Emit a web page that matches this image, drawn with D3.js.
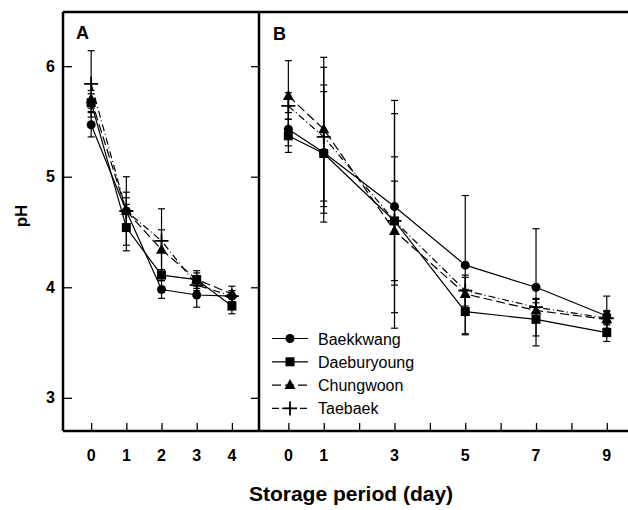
<!DOCTYPE html>
<html>
<head>
<meta charset="utf-8">
<script src="https://cdn.jsdelivr.net/npm/d3@7"></script>
<style>
  body { margin: 0; background: #fff; }
  text { font-family: "Liberation Sans", Arial, sans-serif; fill: #000; }
</style>
</head>
<body>
<div id="chart"></div>
<script>
// storage days
const daysA = [0, 1, 2, 3, 4];
const daysB = [0, 1, 3, 5, 7, 9];
const cultivars = ["Baekkwang", "Daeburyoung", "Chungwoon", "Taebaek"];

// panel A means / sd
const baekkwangA = [5.47, 4.69, 3.98, 3.93, 3.92];
const baekkwangA_sd = [0.11, 0.12, 0.08, 0.11, 0.05];
const daeburyoungA = [5.67, 4.54, 4.11, 4.07, 3.83];
const daeburyoungA_sd = [0.08, 0.21, 0.05, 0.08, 0.07];
const chungwoonA = [5.70, 4.69, 4.34, 4.07, 3.94];
const chungwoonA_sd = [0.08, 0.17, 0.18, 0.06, 0.07];
const taebaekA = [5.84, 4.69, 4.42, 4.02, 3.92];
const taebaekA_sd = [0.30, 0.31, 0.29, 0.05, 0.05];

// panel B means / sd
const baekkwangB = [5.43, 5.22, 4.73, 4.20, 4.00, 3.74];
const baekkwangB_sd = [0.15, 0.55, 0.96, 0.63, 0.53, 0.18];
const daeburyoungB = [5.37, 5.21, 4.60, 3.78, 3.71, 3.59];
const daeburyoungB_sd = [0.15, 0.62, 0.97, 0.20, 0.15, 0.08];
const chungwoonB = [5.73, 5.43, 4.51, 3.94, 3.79, 3.71];
const chungwoonB_sd = [0.32, 0.65, 0.45, 0.15, 0.10, 0.08];
const taebaekB = [5.64, 5.36, 4.60, 3.97, 3.82, 3.72];
const taebaekB_sd = [0.12, 0.63, 0.58, 0.14, 0.08, 0.06];

const yTicks = [3, 4, 5, 6];
const xTicksA = [0, 1, 2, 3, 4];
const xTicksB = [0, 1, 2, 3, 4, 5, 6, 7, 8, 9];
const xLabelsB = [0, 1, 3, 5, 7, 9];

const width = 628, height = 510;
const plotTop = 12, plotBottom = 431;
const plotLeft = 63, divider = 259;

const svg = d3.select("#chart").append("svg")
  .attr("width", width)
  .attr("height", height);

const y = d3.scaleLinear().domain([2.7, 6.49]).range([plotBottom, plotTop]);
const xA = d3.scaleLinear().domain([-0.8, 4.77]).range([plotLeft, divider]);
const xB = d3.scaleLinear().domain([-0.83, 9.6]).range([divider, width]);

const dashes = ["none", "none", "9,4", "7,3,1,3"];
const symbols = ["circle", "square", "triangle", "plus"];

function marker(g, type, cx, cy) {
  if (type === "circle") {
    g.append("circle").attr("cx", cx).attr("cy", cy).attr("r", 4.5).attr("fill", "#000");
  } else if (type === "square") {
    g.append("rect").attr("x", cx - 4.5).attr("y", cy - 4.5)
      .attr("width", 9).attr("height", 9).attr("fill", "#000");
  } else if (type === "triangle") {
    g.append("path")
      .attr("d", `M${cx},${cy - 6}L${cx + 5.5},${cy + 4}L${cx - 5.5},${cy + 4}Z`)
      .attr("fill", "#000");
  } else {
    g.append("path")
      .attr("d", `M${cx - 7},${cy}H${cx + 7}M${cx},${cy - 7}V${cy + 7}`)
      .attr("stroke", "#000").attr("stroke-width", 1.8);
  }
}

function drawPanel(x, days, series, sds) {
  const g = svg.append("g");
  series.forEach((vals, i) => {
    const pts = days.map((d, j) => ({ d, v: vals[j], sd: sds[i][j] }));
    // error bars
    const eb = g.append("g").attr("stroke", "#000").attr("stroke-width", 1.2);
    pts.forEach(p => {
      const px = x(p.d);
      eb.append("line").attr("x1", px).attr("x2", px)
        .attr("y1", y(p.v - p.sd)).attr("y2", y(p.v + p.sd));
      [p.v - p.sd, p.v + p.sd].forEach(e => {
        eb.append("line").attr("x1", px - 3.5).attr("x2", px + 3.5)
          .attr("y1", y(e)).attr("y2", y(e));
      });
    });
    g.append("path")
      .datum(pts)
      .attr("fill", "none")
      .attr("stroke", "#000")
      .attr("stroke-width", 1.2)
      .attr("stroke-dasharray", dashes[i])
      .attr("d", d3.line().x(p => x(p.d)).y(p => y(p.v)));
    pts.forEach(p => marker(g, symbols[i], x(p.d), y(p.v)));
  });
}

drawPanel(xA, daysA,
  [baekkwangA, daeburyoungA, chungwoonA, taebaekA],
  [baekkwangA_sd, daeburyoungA_sd, chungwoonA_sd, taebaekA_sd]);
drawPanel(xB, daysB,
  [baekkwangB, daeburyoungB, chungwoonB, taebaekB],
  [baekkwangB_sd, daeburyoungB_sd, chungwoonB_sd, taebaekB_sd]);

// frame
const frame = svg.append("g").attr("stroke", "#000").attr("stroke-width", 2.5).attr("fill", "none");
frame.append("line").attr("x1", plotLeft).attr("x2", width).attr("y1", plotTop).attr("y2", plotTop);
frame.append("line").attr("x1", plotLeft).attr("x2", width).attr("y1", plotBottom).attr("y2", plotBottom);
frame.append("line").attr("x1", plotLeft).attr("x2", plotLeft).attr("y1", plotTop).attr("y2", plotBottom);
frame.append("line").attr("x1", divider).attr("x2", divider).attr("y1", plotTop).attr("y2", plotBottom);

// left y axis (inward ticks)
svg.append("g")
  .attr("transform", `translate(${plotLeft},0)`)
  .call(d3.axisRight(y).tickValues(yTicks).tickSize(9).tickFormat(""))
  .call(g => g.select(".domain").remove())
  .call(g => g.selectAll("line").attr("stroke-width", 1.3));
svg.append("g")
  .selectAll("text")
  .data(yTicks)
  .join("text")
  .attr("x", 55)
  .attr("y", d => y(d) + 5.5)
  .attr("text-anchor", "end")
  .attr("font-size", 16)
  .attr("font-weight", "bold")
  .text(d => d);

// ticks on the divider
svg.append("g")
  .attr("transform", `translate(${divider},0)`)
  .call(d3.axisLeft(y).tickValues(yTicks).tickSize(8).tickFormat(""))
  .call(g => g.select(".domain").remove())
  .call(g => g.selectAll("line").attr("stroke-width", 1.3));

// x axes (inward ticks)
function xAxis(x, ticks, labels) {
  svg.append("g")
    .attr("transform", `translate(0,${plotBottom})`)
    .call(d3.axisTop(x).tickValues(ticks).tickSize(8).tickFormat(""))
    .call(g => g.select(".domain").remove())
    .call(g => g.selectAll("line").attr("stroke-width", 1.3));
  svg.append("g")
    .selectAll("text")
    .data(labels)
    .join("text")
    .attr("x", d => x(d))
    .attr("y", 461)
    .attr("text-anchor", "middle")
    .attr("font-size", 16)
    .attr("font-weight", "bold")
    .text(d => d);
}
xAxis(xA, xTicksA, xTicksA);
xAxis(xB, xTicksB, xLabelsB);

// panel letters
svg.append("text").attr("x", 76).attr("y", 39).attr("font-size", 18)
  .attr("font-weight", "bold").text("A");
svg.append("text").attr("x", 273).attr("y", 40).attr("font-size", 18)
  .attr("font-weight", "bold").text("B");

// axis titles
svg.append("text")
  .attr("transform", "translate(27,216) rotate(-90)")
  .attr("text-anchor", "middle")
  .attr("font-size", 17)
  .attr("font-weight", "bold")
  .text("pH");
svg.append("text")
  .attr("x", 351)
  .attr("y", 501)
  .attr("text-anchor", "middle")
  .attr("font-size", 21)
  .attr("font-weight", "bold")
  .text("Storage period (day)");

// legend
const legend = svg.append("g");
cultivars.forEach((name, i) => {
  const ly = 338.5 + i * 23.3;
  legend.append("line")
    .attr("x1", 272).attr("x2", 308).attr("y1", ly).attr("y2", ly)
    .attr("stroke", "#000").attr("stroke-width", 1.2)
    .attr("stroke-dasharray", dashes[i]);
  marker(legend, symbols[i], 290, ly);
  legend.append("text")
    .attr("x", 318).attr("y", ly + 6)
    .attr("font-size", 16)
    .text(name);
});
</script>
</body>
</html>
